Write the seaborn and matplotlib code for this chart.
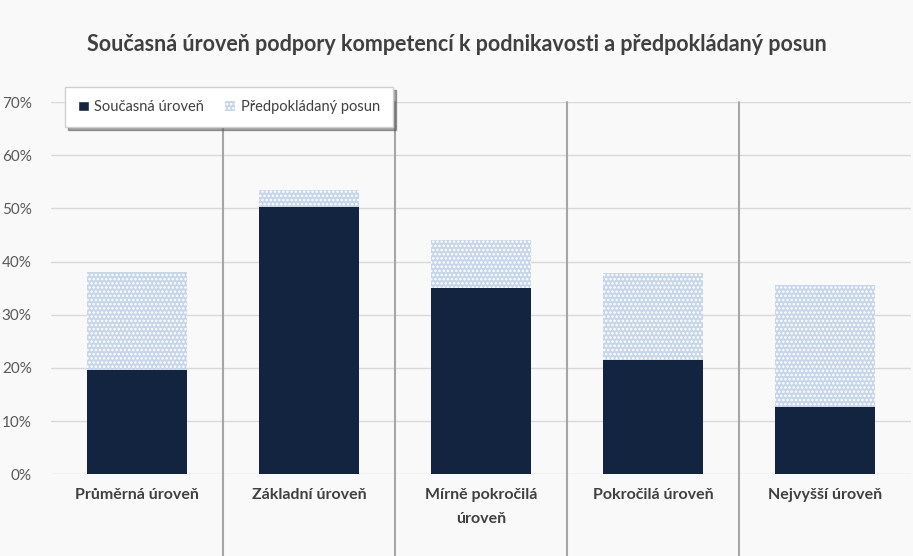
import matplotlib
matplotlib.use("Agg")
import matplotlib.pyplot as plt
import matplotlib.transforms as mtransforms
import seaborn as sns
import pandas as pd
from matplotlib.patches import Patch
from matplotlib.ticker import PercentFormatter

categories = ["Průměrná úroveň", "Základní úroveň", "Mírně pokročilá\núroveň",
              "Pokročilá úroveň", "Nejvyšší úroveň"]
current = [0.196, 0.503, 0.350, 0.215, 0.126]
shift = [0.184, 0.032, 0.091, 0.164, 0.230]

df = pd.DataFrame({"cat": categories, "current": current, "shift": shift})
df["total"] = df["current"] + df["shift"]

sns.set_style("white")
plt.rcParams["font.family"] = ["Lato", "DejaVu Sans"]
plt.rcParams["hatch.linewidth"] = 1.2

dark = "#12243f"
light = "#c6d6e8"
bg = "#f9f9f9"

fig = plt.figure(figsize=(9.13, 5.56), dpi=100, facecolor=bg)
ax = fig.add_axes([0.056, 0.147, 0.942, 0.6695])
ax.set_facecolor(bg)

# total bar (shift on top), then current level over it
sns.barplot(data=df, x="cat", y="total", color=light, width=0.58, ax=ax,
            edgecolor="white", linewidth=0, hatch="....", saturation=1)
sns.barplot(data=df, x="cat", y="current", color=dark, width=0.58, ax=ax,
            linewidth=0, saturation=1)

ax.set_ylim(0, 0.7)
ax.set_xlim(-0.5, 4.5)
ax.yaxis.set_major_formatter(PercentFormatter(1.0, decimals=0))
ax.set_yticks([i / 10 for i in range(8)])
ax.grid(axis="y", color="#d9d9d9", linewidth=1)
ax.set_axisbelow(True)
for s in ax.spines.values():
    s.set_visible(False)
ax.set_xlabel("")
ax.set_ylabel("")
ax.tick_params(axis="y", length=0, labelsize=11, labelcolor="#595959", pad=14)
ax.tick_params(axis="x", length=0, labelsize=11.5, labelcolor="#404040", pad=10)
for t in ax.get_xticklabels():
    t.set_fontweight("bold")
    t.set_linespacing(1.9)

# category separators running down past the axis
trans = mtransforms.blended_transform_factory(ax.transData, ax.transAxes)
for xb in [0.5, 1.5, 2.5, 3.5]:
    ax.plot([xb, xb], [1.0, -0.23], transform=trans, color="#a6a6a6",
            linewidth=1.5, clip_on=False, zorder=1)

handles = [Patch(facecolor=dark, label="Současná úroveň"),
           Patch(facecolor=light, edgecolor="white", linewidth=0, hatch="....",
                 label="Předpokládaný posun")]
leg = ax.legend(handles=handles, loc="upper left", bbox_to_anchor=(0.008, 1.06),
                ncol=2, frameon=True, fancybox=False, shadow=True, fontsize=10.5,
                handlelength=0.7, handleheight=0.7, handletextpad=0.4,
                columnspacing=1.4, borderpad=0.9, labelcolor="#404040")
leg.get_frame().set_facecolor("white")
leg.get_frame().set_edgecolor("#d0d0d0")
leg.set_zorder(5)

fig.text(0.5, 0.92, "Současná úroveň podpory kompetencí k podnikavosti a předpokládaný posun",
         ha="center", va="center", fontsize=15.5, fontweight="bold", color="#404040")

fig.savefig("out.png", dpi=100, facecolor=bg)
